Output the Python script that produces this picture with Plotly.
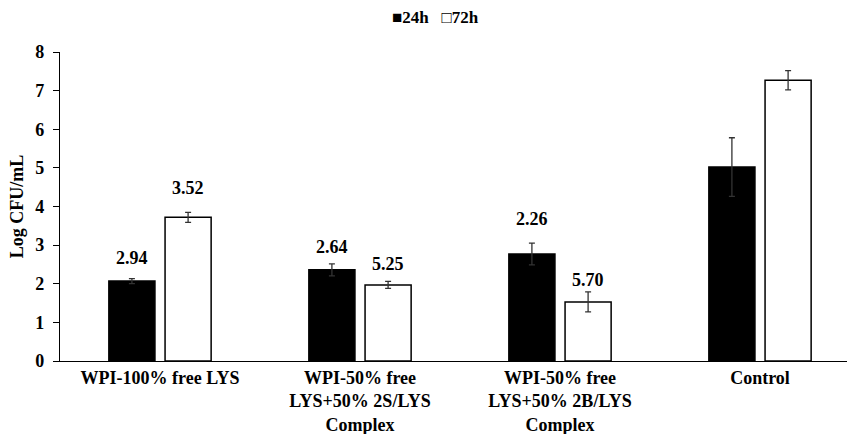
import plotly.graph_objects as go

categories = ["WPI-100% free LYS",
              "WPI-50% free<br>LYS+50% 2S/LYS<br>Complex",
              "WPI-50% free<br>LYS+50% 2B/LYS<br>Complex",
              "Control"]
series_names = ["24h", "72h"]
values_24h = [2.07, 2.36, 2.77, 5.02]
values_72h = [3.72, 1.97, 1.53, 7.27]
err_24h = [0.065, 0.155, 0.28, 0.76]
err_72h = [0.13, 0.09, 0.26, 0.25]
labels_24h = ["2.94", "2.64", "2.26", None]
labels_72h = ["3.52", "5.25", "5.70", None]
y_ticks = [0, 1, 2, 3, 4, 5, 6, 7, 8]

# styling
FONT = "Liberation Serif"
BARGAP = 0.438
BARGROUPGAP = 0.18
label_shift_24h = [21, 17, 24, 0]
label_shift_72h = [24, 17, 12, 0]

fig = go.Figure()
fig.add_trace(go.Bar(
    name=series_names[0], x=categories, y=values_24h,
    marker=dict(color="black", line=dict(color="black", width=1.5)),
    error_y=dict(type="data", array=err_24h, color="#333333", thickness=1.3, width=3),
))
fig.add_trace(go.Bar(
    name=series_names[1], x=categories, y=values_72h,
    marker=dict(color="white", line=dict(color="black", width=1.5)),
    error_y=dict(type="data", array=err_72h, color="#333333", thickness=1.3, width=3),
))

half = (1 - BARGAP) / 4
annotations = []
for i in range(len(categories)):
    for lab, val, err, off, shift in [
        (labels_24h[i], values_24h[i], err_24h[i], -half, label_shift_24h[i]),
        (labels_72h[i], values_72h[i], err_72h[i], half, label_shift_72h[i]),
    ]:
        if lab is None:
            continue
        annotations.append(dict(
            x=i + off, y=val + err, xref="x", yref="y", text=lab,
            showarrow=False, yanchor="middle", yshift=shift,
            font=dict(family=FONT, size=18, color="black", weight="bold"),
        ))

plot_h = 434 - 52 - 73
# legend drawn as text
annotations.append(dict(
    x=(435.5 - 60) / 787, y=1 + (52 - 18) / plot_h, xref="paper", yref="paper",
    text="■" + series_names[0] + "&nbsp;&nbsp;&nbsp;□" + series_names[1],
    showarrow=False, xanchor="center", yanchor="middle",
    font=dict(family=FONT, size=17, color="black", weight="bold"),
))

fig.update_layout(
    width=847, height=434,
    margin=dict(l=60, r=0, t=52, b=73),
    paper_bgcolor="white", plot_bgcolor="white",
    barmode="group", bargap=BARGAP, bargroupgap=BARGROUPGAP,
    showlegend=False,
    annotations=annotations,
    font=dict(family=FONT, size=18, color="black", weight="bold"),
)

fig.update_xaxes(
    range=[-0.5, -0.5 + 787 / 200], showline=True, linecolor="black", linewidth=1.4,
    ticks="", showgrid=False, zeroline=False, automargin=False,
    tickfont=dict(family=FONT, size=18, color="black", weight="bold"),
)
fig.update_yaxes(
    range=[0, 8], tickvals=y_ticks, showline=True, linecolor="black", linewidth=1.4,
    ticks="outside", ticklen=6, tickcolor="black", tickwidth=1.4,
    ticklabelstandoff=5, automargin=False,
    showgrid=False, zeroline=False,
    title=dict(text="Log CFU/mL", font=dict(family=FONT, size=18, color="black", weight="bold"), standoff=6),
    tickfont=dict(family=FONT, size=18, color="black", weight="bold"),
)

fig.write_html("out.html")
